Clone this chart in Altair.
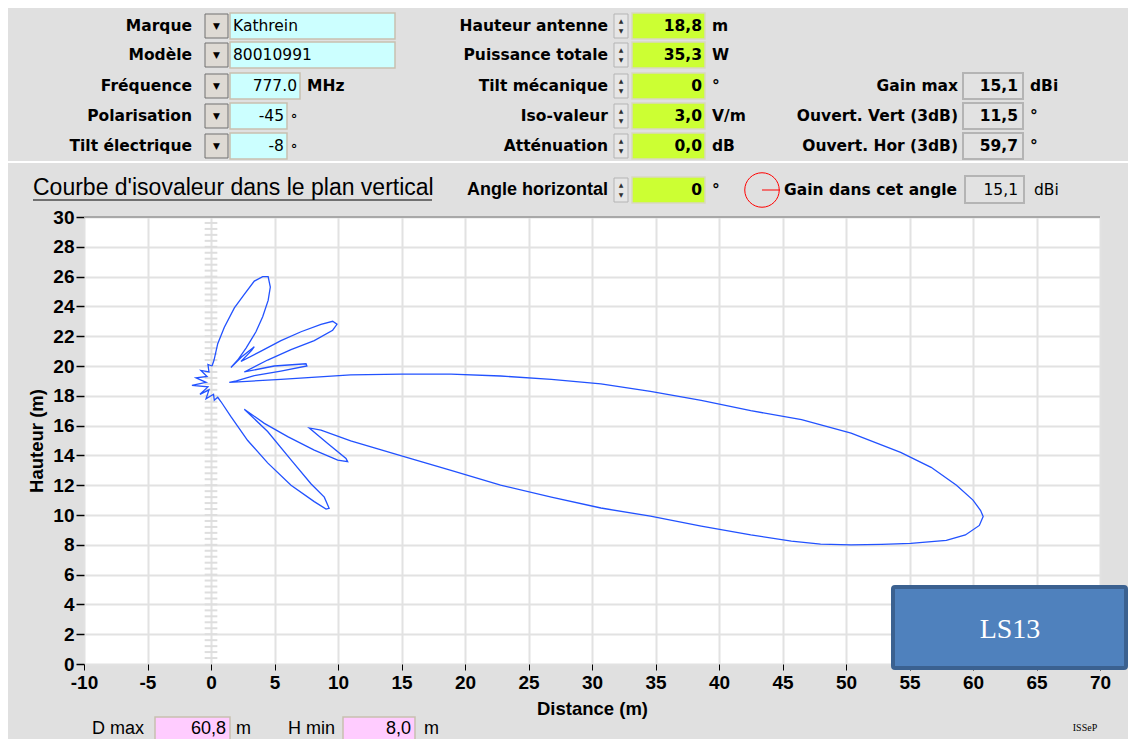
import altair as alt
import pandas as pd

# ---------------- chart data ----------------
curve_x = [0.08, 0.24, 0.53, 1.05, 1.84, 2.62, 3.41, 4.07, 4.5, 4.67, 4.5, 4.07, 3.54, 2.76, 2.1, 1.57,
           2.4, 3.41, 3.2, 2.36,
           3.94, 5.51, 7.09, 8.66, 9.58, 9.92, 9.58, 8.13, 6.3, 4.46, 2.62,
           4.98, 7.48, 7.55, 5.5, 3.41, 2.0,
           1.44, 5.5, 11.0, 15.0, 18.9, 22.8, 26.8, 30.7, 34.6, 38.6, 42.5, 46.5, 50.4, 54.3, 56.7, 58.7, 60.0, 60.6, 60.8,
           60.5, 59.4, 57.9, 55.1, 52.8, 50.4, 48.0, 45.7, 42.5, 38.6, 34.6, 30.7, 26.8, 22.8, 18.9, 15.0, 11.0, 8.66, 7.74,
           9.19, 10.63, 10.76, 9.98, 8.13, 6.04, 4.2, 2.62,
           4.46, 6.3, 7.87, 8.92, 9.3, 9.06, 8.13, 6.3, 4.46, 2.89, 1.57, 0.79, 0.53, 0.26,
           0.2, -0.39, -0.16, -0.87, -0.24, -1.5, -0.39, -1.18, -0.31, -0.79, -0.16, -0.24, 0.08]
curve_y = [20.0, 20.4, 21.5, 22.6, 23.9, 24.8, 25.7, 26.0, 26.0, 25.3, 24.4, 23.3, 22.3, 21.2, 20.4, 19.9,
           20.6, 21.3, 21.05, 20.3,
           21.0, 21.7, 22.3, 22.8, 23.0, 22.8, 22.4, 21.7, 21.1, 20.4, 19.6,
           20.0, 20.15, 20.0, 19.66, 19.35, 19.0,
           18.9, 19.1, 19.4, 19.46, 19.46, 19.33, 19.1, 18.8, 18.3, 17.7, 17.0, 16.4, 15.5, 14.2, 13.2, 12.0, 11.0, 10.3, 9.9,
           9.3, 8.66, 8.3, 8.1, 8.03, 8.0, 8.05, 8.25, 8.66, 9.26, 9.93, 10.47, 11.2, 12.0, 13.0, 13.96, 14.97, 15.7, 15.84,
           14.8, 13.8, 13.58, 13.69, 14.36, 15.26, 16.15, 17.1,
           15.6, 13.7, 12.1, 11.2, 10.45, 10.4, 10.9, 12.0, 13.5, 15.0, 16.6, 17.6, 17.9, 17.7,
           18.1, 17.8, 18.4, 18.1, 18.6, 18.7, 18.9, 19.2, 19.3, 19.7, 19.6, 20.1, 20.0]

x_ticks = [-10, -5, 0, 5, 10, 15, 20, 25, 30, 35, 40, 45, 50, 55, 60, 65, 70]
y_ticks = [0, 2, 4, 6, 8, 10, 12, 14, 16, 18, 20, 22, 24, 26, 28, 30]
mast_marks = [round(0.4 * i, 1) for i in range(1, 75)]   # graduation of the mast at x = 0

# ---------------- panel texts ----------------
left_labels = ["Marque", "Modèle", "Fréquence", "Polarisation", "Tilt électrique"]
left_values = ["Kathrein", "80010991", "777.0", "-45", "-8"]
left_units = ["", "", "MHz", "∘", "∘"]
mid_labels = ["Hauteur antenne", "Puissance totale", "Tilt mécanique", "Iso-valeur", "Atténuation"]
mid_values = ["18,8", "35,3", "0", "3,0", "0,0"]
mid_units = ["m", "W", "°", "V/m", "dB"]
right_labels = ["Gain max", "Ouvert. Vert (3dB)", "Ouvert. Hor (3dB)"]
right_values = ["15,1", "11,5", "59,7"]
right_units = ["dBi", "°", "°"]
section_title = "Courbe d'isovaleur dans le plan vertical"
angle_label, angle_value, angle_unit = "Angle horizontal", "0", "°"
gain_label, gain_value, gain_unit = "Gain dans cet angle", "15,1", "dBi"
dmax_label, dmax_value, dmax_unit = "D max", "60,8", "m"
hmin_label, hmin_value, hmin_unit = "H min", "8,0", "m"
badge_text = "LS13"
credit_text = "ISSeP"
x_title = "Distance (m)"
y_title = "Hauteur (m)"

# ---------------- layout: page pixels -> data coordinates of the plot ----------------
PL, PR, PT, PB = 84, 1100, 217, 664   # plot area edges on the page
XMIN, XMAX, YMIN, YMAX = -10, 70, 0, 30


def dx(p):
    return XMIN + (p - PL) * (XMAX - XMIN) / (PR - PL)


def dy(p):
    return YMIN + (PB - p) * (YMAX - YMIN) / (PB - PT)


ROWS = [26, 55, 86, 116, 146]
PANEL = "DejaVu Sans"
AX = "Liberation Sans, Arial, sans-serif"

texts, rects, rules = [], [], []


def T(x, y, text, style):
    texts.append({"x": dx(x), "y": dy(y), "text": text, "style": style})


def R(x1, x2, y1, y2, fill, stroke, sw=1.0):
    rects.append({"x": dx(x1), "x2": dx(x2), "y": dy(y1), "y2": dy(y2),
                  "fill": fill, "stroke": stroke, "sw": sw})


def L(x1, x2, y, color, w):
    rules.append({"x": dx(x1), "x2": dx(x2), "y": dy(y), "color": color, "w": w})


def spinner(y):
    R(614, 628, y - 12, y + 12, "#e6e6e6", "#b4b4b4", 1)
    T(621, y - 5, "▲", "arrow_s")
    T(621, y + 5, "▼", "arrow_s")


left_box_right = [395, 395, 300, 287, 287]
for i, y in enumerate(ROWS):
    T(192, y, left_labels[i], "lab")
    R(205, 228, y - 12, y + 12, "#dedad4", "#707070", 1)
    T(216.5, y, "▼", "arrow")
    R(230, left_box_right[i], y - 13, y + 13, "#ccffff", "#c8c0b0", 1.5)
    if i < 2:
        T(233, y, left_values[i], "val")
    else:
        T(left_box_right[i] - 3, y, left_values[i], "valr")
    if left_units[i] == "MHz":
        T(307, y, left_units[i], "unitb")
    elif left_units[i]:
        T(290, y, left_units[i], "ring")

    T(608, y, mid_labels[i], "lab")
    spinner(y)
    R(632, 705, y - 13, y + 13, "#ccff33", "#d8d8c0", 1.5)
    T(702, y, mid_values[i], "valb")
    T(712, y, mid_units[i], "unitb")

for j, y in enumerate(ROWS[2:]):
    T(958, y, right_labels[j], "lab")
    R(963, 1023, y - 13, y + 13, "#e2e2e2", "#b4b4b4", 2)
    T(1018, y, right_values[j], "valb")
    T(1030, y, right_units[j], "unitb")

L(8, 1128, 162, "#ffffff", 2)

# section row
T(33, 188, section_title, "title")
L(33, 432, 200, "#000000", 1)
T(608, 190, angle_label, "angle")
spinner(190)
R(632, 705, 177, 203, "#ccff33", "#d8d8c0", 1.5)
T(702, 190, angle_value, "valb")
T(712, 190, angle_unit, "unitb")
L(762, 780, 190, "#ff0000", 1)
T(784, 190, gain_label, "labl")
R(965, 1024, 176, 203, "#e2e2e2", "#b4b4b4", 2)
T(1018, 190, gain_value, "valr")
T(1034, 190, gain_unit, "unit")

# plot top border
L(84, 1100, 217, "#a8a8a8", 2)

# bottom row
BY = 729
T(92, BY, dmax_label, "bottom")
R(155, 230, BY - 12, BY + 12, "#ffccff", "#c8c0b0", 1.5)
T(226, BY, dmax_value, "bottomr")
T(236, BY, dmax_unit, "bottom")
T(288, BY, hmin_label, "bottom")
R(343, 415, BY - 12, BY + 12, "#ffccff", "#c8c0b0", 1.5)
T(411, BY, hmin_value, "bottomr")
T(424, BY, hmin_unit, "bottom")
T(1085, 728, credit_text, "credit")

styles = {
    "lab": dict(font=PANEL, fontSize=15.5, fontWeight="bold", align="right"),
    "labl": dict(font=PANEL, fontSize=15.5, fontWeight="bold", align="left"),
    "val": dict(font=PANEL, fontSize=15.5, align="left"),
    "valr": dict(font=PANEL, fontSize=15.5, align="right"),
    "valb": dict(font=PANEL, fontSize=15.5, fontWeight="bold", align="right"),
    "unitb": dict(font=PANEL, fontSize=15.5, fontWeight="bold", align="left"),
    "unit": dict(font=PANEL, fontSize=15.5, align="left"),
    "ring": dict(font=PANEL, fontSize=13, fontWeight="bold", align="left"),
    "title": dict(font=AX, fontSize=23, align="left"),
    "angle": dict(font=AX, fontSize=18, fontWeight="bold", align="right"),
    "bottom": dict(font=AX, fontSize=18, align="left"),
    "bottomr": dict(font=AX, fontSize=18, align="right"),
    "arrow": dict(font=PANEL, fontSize=9, align="center"),
    "arrow_s": dict(font=PANEL, fontSize=6, align="center", color="#303030"),
    "credit": dict(font="Liberation Serif", fontSize=10, align="center"),
}

text_df = pd.DataFrame(texts)
rect_df = pd.DataFrame(rects)
rule_df = pd.DataFrame(rules)

# ---------------- scales & axes (identical in every layer so they merge) ----------------
axis_x = alt.Axis(values=x_ticks, title=x_title, grid=True, gridColor="#e2e2e2", gridWidth=2,
                  domain=False, tickColor="#000000", tickSize=6, tickWidth=1,
                  labelFont=AX, labelFontSize=19, labelFontWeight="bold", labelColor="#000000",
                  labelPadding=3, labelFlush=False, labelOverlap=False, labelExpr="'' + datum.value",
                  titleFont=AX, titleFontSize=18.5, titleFontWeight="bold", titleColor="#000000",
                  titlePadding=7)
axis_y = alt.Axis(values=y_ticks, title=y_title, grid=True, gridColor="#e2e2e2", gridWidth=2,
                  domain=False, tickColor="#000000", tickSize=8, tickWidth=1.5,
                  labelFont=AX, labelFontSize=19, labelFontWeight="bold", labelColor="#000000",
                  labelPadding=2, labelFlush=False, labelOverlap=False, labelExpr="'' + datum.value",
                  titleFont=AX, titleFontSize=18.5, titleFontWeight="bold", titleColor="#000000",
                  titlePadding=6)

xs = alt.Scale(domain=[XMIN, XMAX], nice=False, zero=False)
ys = alt.Scale(domain=[YMIN, YMAX], nice=False, zero=False)


def X(f):
    return alt.X(f, scale=xs, axis=axis_x)


def Y(f):
    return alt.Y(f, scale=ys, axis=axis_y)


curve_df = pd.DataFrame({"x": curve_x, "y": curve_y, "i": list(range(len(curve_x)))})
mast_df = pd.DataFrame({"y": mast_marks, "a": [-0.5] * len(mast_marks), "b": [0.5] * len(mast_marks)})

mast = alt.Chart(mast_df).mark_rule(color="#dedede", strokeWidth=2).encode(
    x=X("a:Q"), x2="b:Q", y=Y("y:Q"))

curve = alt.Chart(curve_df).mark_line(color="#2252ff", strokeWidth=1.3).encode(
    x=X("x:Q"), y=Y("y:Q"), order="i:Q")

ui_rects = alt.Chart(rect_df).mark_rect(clip=False).encode(
    x=X("x:Q"), x2="x2:Q", y=Y("y:Q"), y2="y2:Q",
    fill=alt.Fill("fill:N", scale=None), stroke=alt.Stroke("stroke:N", scale=None),
    strokeWidth=alt.StrokeWidth("sw:Q", scale=None))

ui_rules = alt.Chart(rule_df).mark_rule(clip=False).encode(
    x=X("x:Q"), x2="x2:Q", y=Y("y:Q"),
    color=alt.Color("color:N", scale=None), strokeWidth=alt.StrokeWidth("w:Q", scale=None))

ring = alt.Chart(pd.DataFrame({"x": [dx(762)], "y": [dy(190)]})).mark_point(
    shape="circle", size=1190, filled=False, color="#ff0000", strokeWidth=1, opacity=1, clip=False).encode(
    x=X("x:Q"), y=Y("y:Q"))

text_layers = []
for name, st in styles.items():
    sub = text_df[text_df["style"] == name]
    if len(sub) == 0:
        continue
    kw = dict(baseline="middle", color="#000000", clip=False)
    kw.update(st)
    text_layers.append(alt.Chart(sub).mark_text(**kw).encode(x=X("x:Q"), y=Y("y:Q"), text="text:N"))

badge_box = alt.Chart(pd.DataFrame({"x": [dx(893)], "x2": [dx(1126)], "y": [dy(587)], "y2": [dy(668)]})).mark_rect(
    fill="#4f81bd", stroke="#3b6190", strokeWidth=4, cornerRadius=2, clip=False).encode(
    x=X("x:Q"), x2="x2:Q", y=Y("y:Q"), y2="y2:Q")
badge_text_layer = alt.Chart(pd.DataFrame({"x": [dx(1010)], "y": [dy(630)], "t": [badge_text]})).mark_text(
    font="Liberation Serif", fontSize=28, color="#ffffff", baseline="middle", align="center", clip=False).encode(
    x=X("x:Q"), y=Y("y:Q"), text="t:N")

chart = alt.layer(mast, curve, ui_rects, ui_rules, ring, *text_layers, badge_box, badge_text_layer).properties(
    width=PR - PL, height=PB - PT,
    autosize=alt.AutoSizeParams(type="none"),
    padding={"left": PL - 8, "top": PT - 8, "right": 1128 - PR, "bottom": 739 - PB},
    background="#e0e0e0",
).configure_view(fill="#ffffff", stroke="transparent")

chart.save("out.html", embed_options={"renderer": "svg", "actions": False})
